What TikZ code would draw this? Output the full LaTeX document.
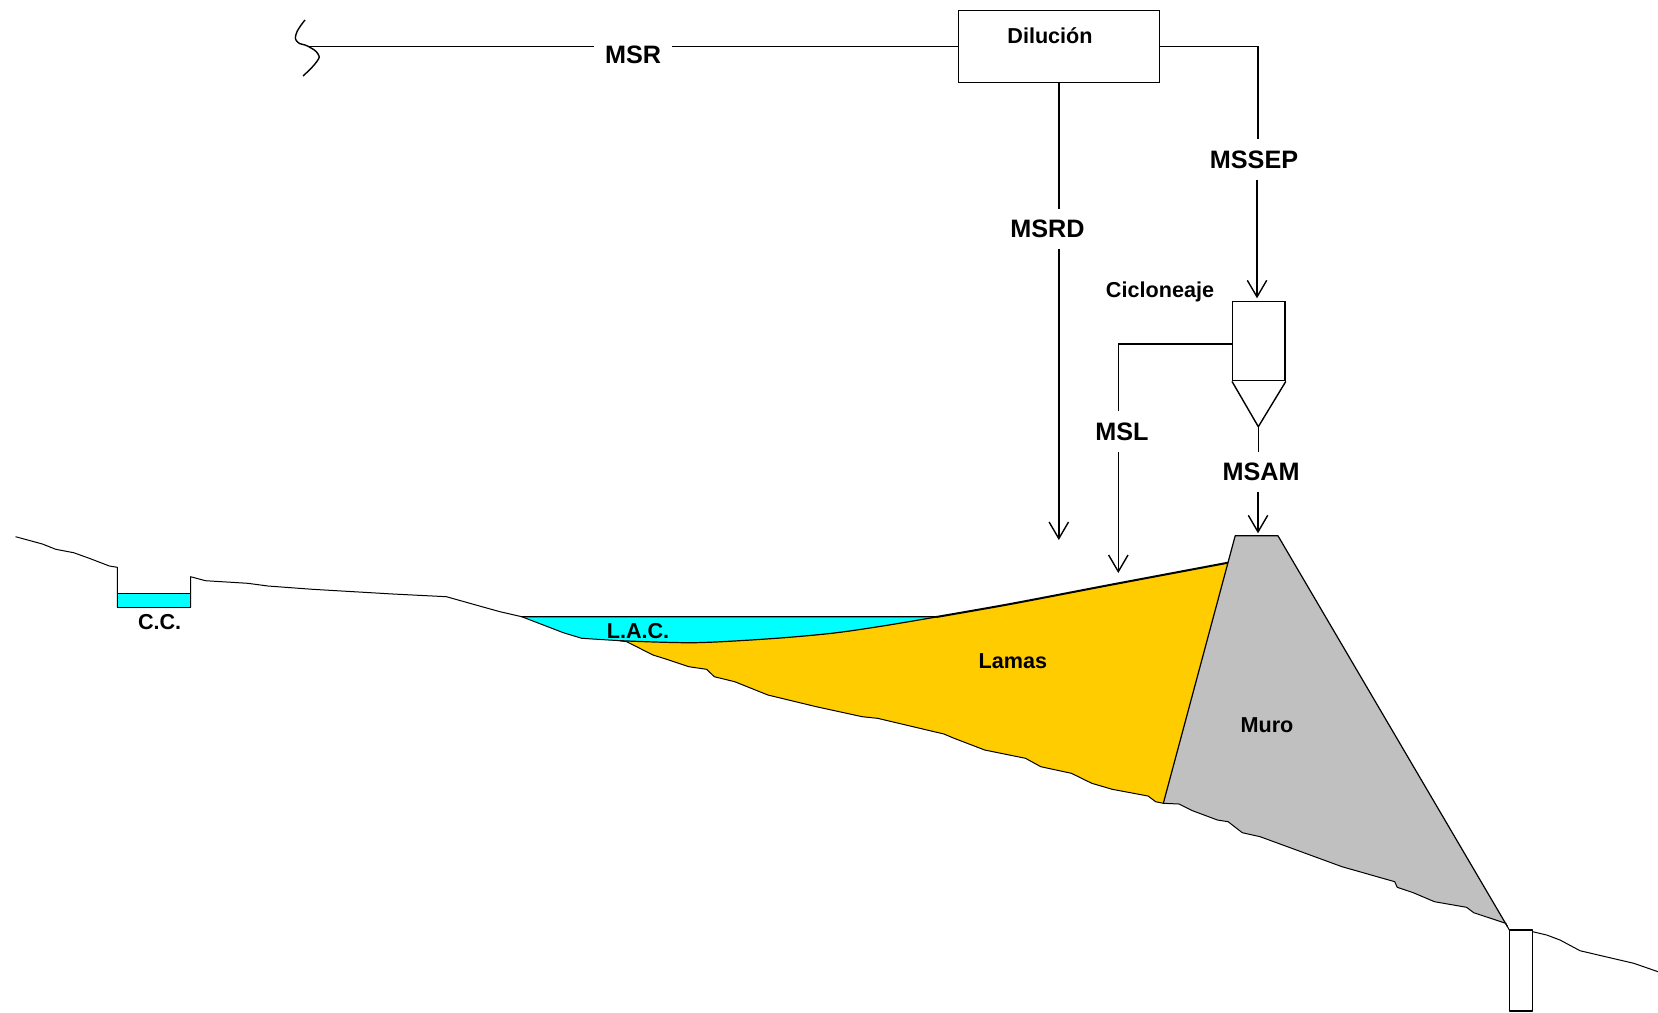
\documentclass[tikz,border=0pt]{standalone}
\usepackage{fontspec}
\setmainfont{Liberation Sans}
\usetikzlibrary{arrows.meta}
\definecolor{lakecyan}{RGB}{0,255,255}
\definecolor{lamasyellow}{RGB}{255,204,0}
\definecolor{murogray}{RGB}{192,192,192}
\begin{document}
\begin{tikzpicture}[x=0.5pt,y=-0.5pt,
  flow/.style={line width=0.7pt},
  arr/.style={flow,-{Straight Barb[length=8.3pt,width=9.7pt]}},
  big/.style={font=\fontsize{12.6}{14}\selectfont\bfseries, inner sep=5.5pt, anchor=base},
  small/.style={font=\fontsize{10.8}{12}\selectfont\bfseries, inner sep=0pt, anchor=base},
  ground/.style={line width=0.5pt, line join=round},
  unit/.style={draw, line width=0.7pt, inner sep=0pt}]
\useasboundingbox (0,0) rectangle (1658,1012);

% ---------- fills: water, slimes, dam wall ----------
\fill[lakecyan] (521.7,616.7) -- (936.2,616.8)
  -- plot[smooth] coordinates {(936.2,617) (882.7,626) (831.6,633.3) (770.4,638.7) (693.9,642.7) (622.4,641.3)}
  -- (581.7,638.3) -- (563.3,632.7) -- (543.3,625) -- cycle;
\fill[lamasyellow]
  plot[smooth] coordinates {(622.4,641.3) (693.9,642.7) (770.4,638.7) (831.6,633.3) (882.7,626) (936.2,617) (1010.2,604) (1112.2,584.5) (1228,562.7)}
  -- (1163.3,803.3) -- (1155.6,801.7) -- (1148,796) -- (1112.2,789.3) -- (1091.8,783.3)
  -- (1071.4,773.3) -- (1040.8,766.7) -- (1025.5,758.3) -- (984.7,750) -- (954.1,738.3)
  -- (943.9,734) -- (877.6,718.3) -- (862.2,716.7) -- (816.3,706.7) -- (767.9,695)
  -- (734.7,681.7) -- (714.3,676.7) -- (706.6,669.3) -- (688.8,666.7) -- (666.7,659.3)
  -- (653,655) -- (626.7,641.7) -- cycle;
\fill[murogray] (1235.2,535.7) -- (1277.9,535.7) -- (1507.5,926.7)
  -- (1505.7,923.3) -- (1473.7,912.7) -- (1466.5,907.3) -- (1434.5,901.7) -- (1413.2,892.7)
  -- (1397.2,887.3) -- (1394.7,881.7) -- (1342,866.7) -- (1260.1,836.7) -- (1242.3,832.7)
  -- (1228.1,821.7) -- (1217.4,820) -- (1192.5,810.7) -- (1179,804) -- (1163.3,803.3) -- cycle;

% ---------- terrain profile ----------
\draw[ground] (15.6,536.7) -- (42.4,544) -- (55.8,549.3) -- (73.7,552.7) -- (89.3,558.3)
  -- (109.4,566) -- (117.4,567.3) -- (117.4,607.3) -- (190.6,607.3) -- (190.6,576.7)
  -- (205.4,580.7) -- (247.8,583.3) -- (267.9,586) -- (312.5,589.3) -- (392.9,594)
  -- (446.4,596.7) -- (482,606.7) -- (500,611.7) -- (521.7,616.7) -- (543.3,625)
  -- (563.3,632.7) -- (581.7,638.3) -- (620,640.7) -- (626.7,641.7) -- (653,655)
  -- (666.7,659.3) -- (688.8,666.7) -- (706.6,669.3) -- (714.3,676.7) -- (734.7,681.7)
  -- (767.9,695) -- (816.3,706.7) -- (862.2,716.7) -- (877.6,718.3) -- (943.9,734)
  -- (954.1,738.3) -- (984.7,750) -- (1025.5,758.3) -- (1040.8,766.7) -- (1071.4,773.3)
  -- (1091.8,783.3) -- (1112.2,789.3) -- (1148,796) -- (1155.6,801.7) -- (1163.3,803.3)
  -- (1179,804) -- (1192.5,810.7) -- (1217.4,820) -- (1228.1,821.7) -- (1242.3,832.7)
  -- (1260.1,836.7) -- (1342,866.7) -- (1394.7,881.7) -- (1397.2,887.3) -- (1413.2,892.7)
  -- (1434.5,901.7) -- (1466.5,907.3) -- (1473.7,912.7) -- (1505.7,923.3) -- (1507.5,926.7)
  -- (1509.3,930);
\draw[ground] (1532.7,931.7) -- (1546.7,935) -- (1560,940) -- (1580,950.7)
  -- (1598.2,955) -- (1633.8,963.3) -- (1658,971.7);
% drain at the toe of the wall
\draw[ground, line width=0.6pt] (1509.3,930) rectangle (1532.7,1011);
% collection channel
\filldraw[fill=lakecyan, ground, line width=0.6pt] (117.4,593.3) rectangle (190.6,607.3);

% ---------- pond, slimes and wall outlines ----------
\draw[ground, line width=0.6pt] (521.7,616.7) -- (936.2,616.8);
\draw[ground, line width=0.6pt] plot[smooth] coordinates {(620,640.7) (693.9,642.7) (770.4,638.7) (831.6,633.3) (882.7,626) (936.2,617)};
\draw[line width=1pt] plot[smooth] coordinates {(936.2,617) (1010.2,604) (1112.2,584.5) (1228,562.7)};
\draw[ground, line width=0.6pt] (1163.3,803.3) -- (1235.2,535.7) -- (1277.9,535.7) -- (1507.5,926.7);

\node[small] (cc) at (159.6,629) {C.C.};
\node[small] (lac) at (638,638.3) {L.A.C.};
\node[small] (lamas) at (1012.8,668.7) {Lamas};
\node[small] (muro) at (1267,732.7) {Muro};

% ---------- dilution box and MSR feed ----------
\node[unit, minimum width=100.5pt, minimum height=36.2pt] (dil) at (1058.8,46.4) {};
\node[small] (dilText) at (1050,43.3) {Dilución};
\node[big] (msr) at (633,63) {MSR};
\coordinate (brk) at (308.3,46.4);
\draw[flow] plot[smooth, tension=0.8] coordinates {(305,20) (296.5,33) (297.5,42) (308.3,46.4) (318,54) (316.5,62) (303,76)};
\draw[flow] (brk) -- (msr.west |- brk);
\draw[flow] (msr.east |- brk) -- (dil.west);

% ---------- MSRD ----------
\node[big] (msrd) at (1047.5,237.5) {MSRD};
\coordinate (rdTip) at (1058.8,540);
\draw[flow] (dil.south) -- (dil.south |- msrd.north);
\draw[arr] (rdTip |- msrd.south) -- (rdTip);

% ---------- MSSEP to cyclone ----------
\coordinate (sepBend) at (1257.8,46.4);
\coordinate (sepTip) at (1257,298.3);
\node[big] (mssep) at (1254,168) {MSSEP};
\draw[flow] (dil.east) -- (sepBend) -- (sepBend |- mssep.north);
\draw[arr] (sepTip |- mssep.south) -- (sepTip);

% ---------- cyclone ----------
\node[unit, minimum width=26.2pt, minimum height=39.5pt] (cyc) at (1258.9,341.2) {};
\coordinate (apex) at (1258.3,426.7);
\draw[flow, line join=round] (cyc.south west) -- (apex) -- (cyc.south east);
\node[small] (cicl) at (1160,297.7) {Cicloneaje};

% ---------- MSL overflow ----------
\coordinate (slBend) at (1118.3,344);
\coordinate (slTip) at (1118.3,573);
\node[big] (msl) at (1122,440) {MSL};
\draw[flow] (cyc.west |- slBend) -- (slBend) -- (slBend |- msl.north);
\draw[arr] (slTip |- msl.south) -- (slTip);

% ---------- MSAM underflow ----------
\coordinate (samTip) at (1258,533.3);
\node[big] (msam) at (1261,480.7) {MSAM};
\draw[flow] (apex) -- (apex |- msam.north);
\draw[arr] (samTip |- msam.south) -- (samTip);
\end{tikzpicture}
\end{document}
